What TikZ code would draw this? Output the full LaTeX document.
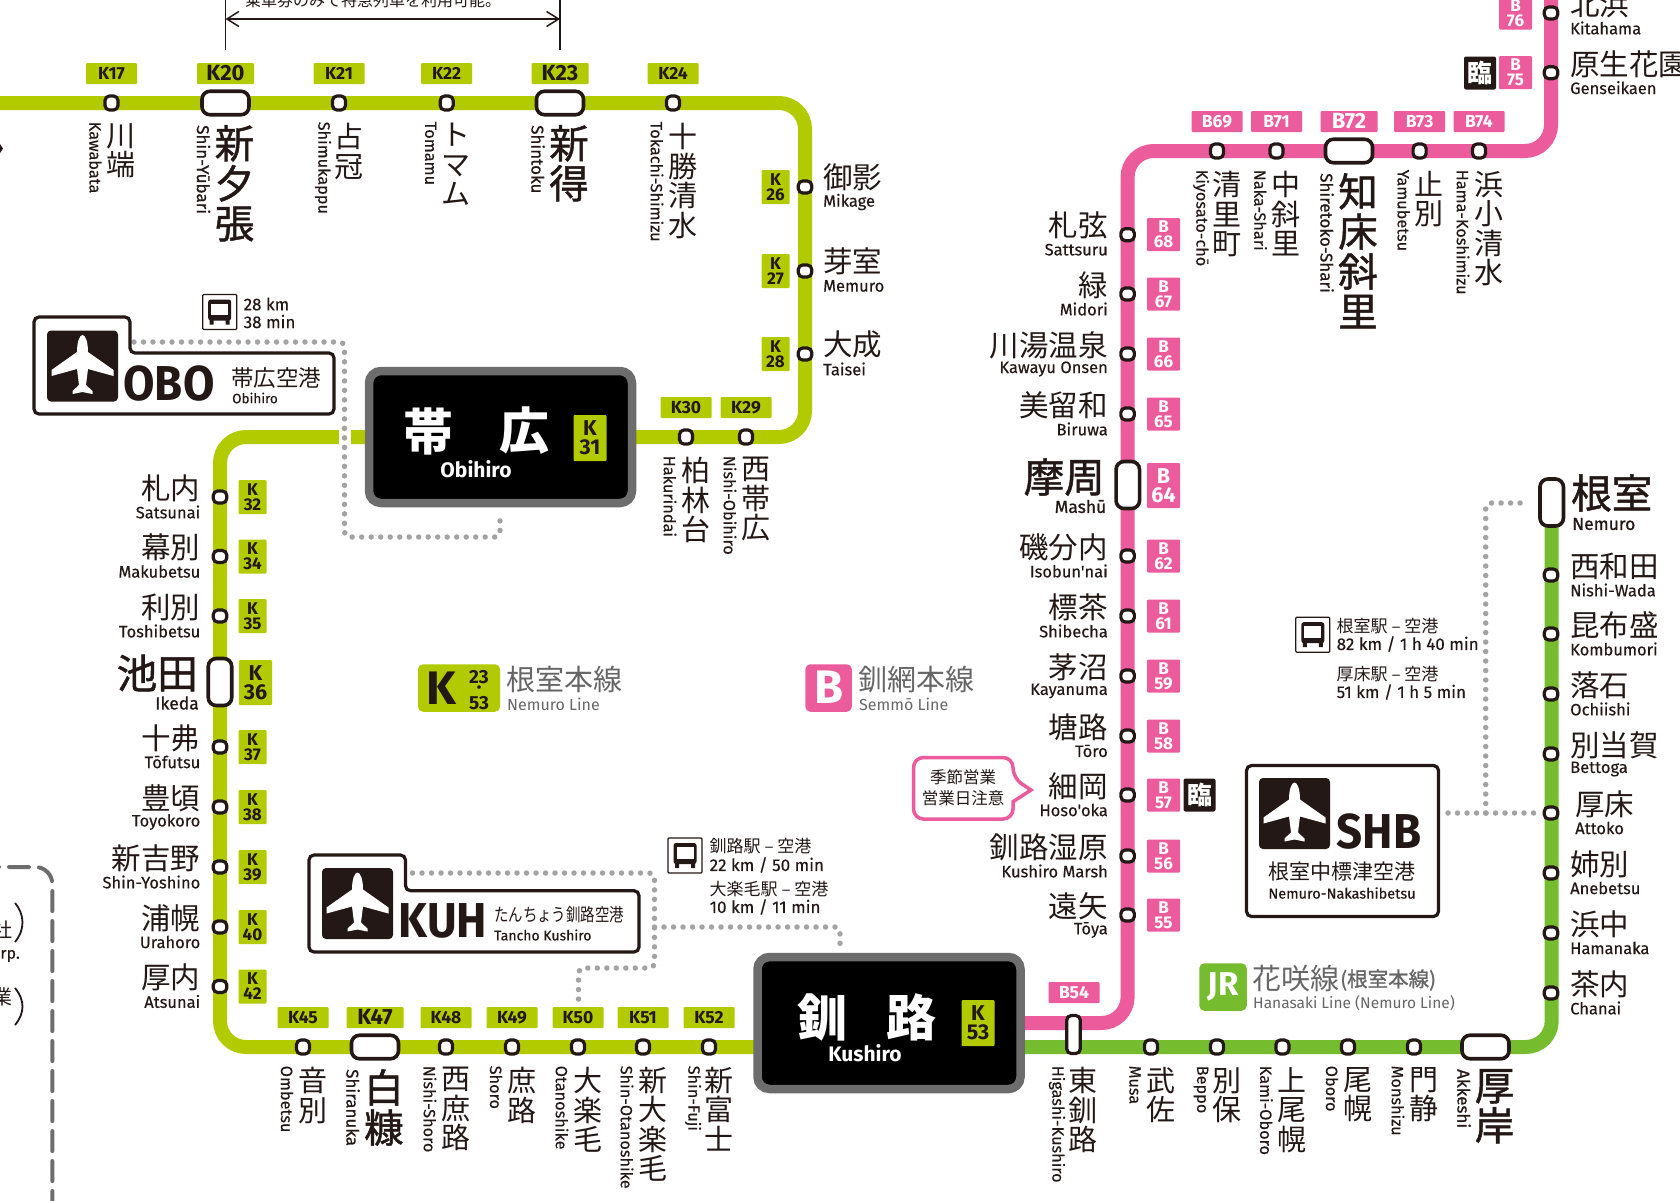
\documentclass[tikz,border=0pt]{standalone}
\usepackage{fontspec}
\usetikzlibrary{arrows.meta,backgrounds}
\newfontfamily\jafont{Noto Sans CJK JP}
\newfontfamily\jamed{Noto Sans CJK JP}[FakeBold=1.2]
\newfontfamily\jacond{Noto Sans CJK JP}[FakeStretch=0.8]
\newfontfamily\enfont{Fira Sans}[FakeBold=0.3]
\newfontfamily\enmed{Fira Sans}[FakeBold=0.9]
\newfontfamily\tagfont{Fira Sans}
\newfontfamily\codefont{Fira Sans}[FakeStretch=0.93]
\definecolor{inkcol}{HTML}{231815}
\definecolor{kcol}{HTML}{B1CB00}
\definecolor{bcol}{HTML}{EC5B9B}
\definecolor{jrcol}{HTML}{76BC2F}
\definecolor{boxcol}{HTML}{6D6D6D}
\definecolor{dotcol}{HTML}{A3A3A3}
\definecolor{legcol}{HTML}{666666}
\tikzset{
  every node/.style={inner sep=0pt,text=inkcol},
  kline/.style={draw=kcol,line width=14pt,rounded corners=26pt},
  bline/.style={kline,draw=bcol},
  jrline/.style={kline,draw=jrcol},
  dotline/.style={draw=dotcol,line width=5.5pt,line cap=round,dash pattern=on 0pt off 9.5pt,rounded corners=5pt},
  stn/.style={draw=inkcol,fill=white,line width=3.2pt,rounded corners=4.5pt,minimum width=13pt,minimum height=14pt},
  stnv/.style={stn,minimum width=13.5pt,minimum height=12pt},
  stnwide/.style={stn,line width=3.6pt,rounded corners=8pt,minimum width=47pt,minimum height=23.5pt},
  stntall/.style={stn,line width=3.6pt,rounded corners=8pt,minimum width=23.5pt,minimum height=47pt},
  ktag/.style={fill=kcol,rounded corners=1pt,minimum width=51pt,minimum height=21pt,font=\tagfont\bfseries\fontsize{17.5}{17.5}\selectfont},
  ktagbig/.style={ktag,minimum width=57pt,font=\tagfont\bfseries\fontsize{22}{22}\selectfont},
  btag/.style={ktag,fill=bcol,text=white},
  btagbig/.style={ktagbig,fill=bcol,text=white},
  ktagv/.style={fill=kcol,rounded corners=1pt,minimum width=28pt,minimum height=34pt,align=center,font=\tagfont\bfseries\fontsize{17}{15}\selectfont},
  ktagvbig/.style={ktagv,minimum width=33pt,minimum height=45pt,font=\tagfont\bfseries\fontsize{21.5}{19}\selectfont},
  btagv/.style={ktagv,fill=bcol,text=white,minimum width=33pt,minimum height=33pt},
  btagvbig/.style={ktagvbig,fill=bcol,text=white},
  rinji/.style={fill=inkcol,text=white,rounded corners=2pt,minimum width=32pt,minimum height=33pt,font=\jafont\bfseries\fontsize{25}{25}\selectfont},
  jadown/.style={anchor=north,align=center,font=\jafont\fontsize{29}{29.5}\selectfont},
  jadownbig/.style={anchor=north,align=center,font=\jamed\fontsize{39.5}{40}\selectfont},
  endown/.style={rotate=-90,anchor=west,font=\enfont\fontsize{16.3}{17}\selectfont},
  endownbig/.style={endown,font=\enmed\fontsize{17}{17}\selectfont},
  jaside/.style={font=\jafont\fontsize{29.5}{29.5}\selectfont},
  jasidebig/.style={font=\jamed\fontsize{40.5}{40.5}\selectfont},
  enside/.style={font=\enfont\fontsize{16.5}{17}\selectfont},
  ensidebig/.style={font=\enmed\fontsize{17.5}{17.5}\selectfont},
  hubbox/.style={draw=boxcol,fill=black,line width=8.5pt,rounded corners=12pt,minimum width=263pt,minimum height=132pt},
  hubja/.style={text=white,font=\jafont\bfseries\fontsize{50}{50}\selectfont},
  huben/.style={text=white,font=\tagfont\bfseries\fontsize{21}{21}\selectfont},
  hubtag/.style={ktagv,minimum width=33pt,minimum height=46pt,font=\tagfont\bfseries\fontsize{21.5}{19}\selectfont},
  portbox/.style={draw=inkcol,fill=white,line width=3.2pt,rounded corners=5pt},
  portcode/.style={font=\codefont\bfseries\fontsize{49}{49}\selectfont},
  busfont/.style={font=\enfont\fontsize{17}{17}\selectfont},
  busja/.style={font=\jafont\fontsize{17}{17}\selectfont},
  planeicon/.pic={
    \fill[inkcol,rounded corners=4pt] (-35.5,-35.5) rectangle (35.5,35.5);
    \fill[white] (0,-31) .. controls (3,-31) and (5.5,-24) .. (5.5,-14) -- (31,4) -- (31,10) -- (5.5,3) -- (3.5,19)
      -- (10,25) -- (10,28) -- (0,26) -- (-10,28) -- (-10,25) -- (-3.5,19) -- (-5.5,3) -- (-31,10) -- (-31,4)
      -- (-5.5,-14) .. controls (-5.5,-24) and (-3,-31) .. (0,-31) -- cycle;
  },
  busicon/.pic={
    \draw[inkcol,line width=1.2pt,fill=white,rounded corners=1pt] (-17,-17.5) rectangle (17,17.5);
    \fill[inkcol,rounded corners=2.5pt] (-11.5,-12.5) rectangle (11.5,8.5);
    \fill[white] (-8.5,-8.5) rectangle (8.5,3);
    \fill[inkcol] (-10,8) rectangle (-6,12.5) (6,8) rectangle (10,12.5);
  },
}
\begin{document}
\begin{tikzpicture}[x=1pt,y=-1pt]
  \useasboundingbox (0,0) rectangle (1680,1200);

  % hub stations
  \node[hubbox] (obihiro) at (500.5,437) {};
  \node[hubja] (obihiro-ja1) at (428.5,431) {帯};
  \node[hubja] (obihiro-ja2) at (524,431) {広};
  \node[huben] (obihiro-en) at (476,469) {Obihiro};
  \node[hubtag] (K31) at (590,438) {K\\31};
  \node[hubbox] (kushiro) at (889,1023) {};
  \node[hubja] (kushiro-ja1) at (822,1017) {釧};
  \node[hubja] (kushiro-ja2) at (911,1017) {路};
  \node[huben] (kushiro-en) at (865,1053) {Kushiro};
  \node[hubtag] (K53) at (978,1023) {K\\53};

  % stations on the horizontal runs
  \foreach \xx/\yy/\kind/\code/\ja/\en in {
    111.5/103/ktag/K17/川\\端/Kawabata, 339/103/ktag/K21/占\\冠/Shimukappu,
    446.7/103/ktag/K22/ト\\マ\\ム/Tomamu, 673/103/ktag/K24/十\\勝\\清\\水/Tokachi-Shimizu,
    686/437/ktag/K30/柏\\林\\台/Hakurindai, 746/437/ktag/K29/西\\帯\\広/Nishi-Obihiro,
    303/1047/ktag/K45/音\\別/Ombetsu, 446/1047/ktag/K48/西\\庶\\路/Nishi-Shoro,
    512/1047/ktag/K49/庶\\路/Shoro, 578/1047/ktag/K50/大\\楽\\毛/Otanoshike,
    643/1047/ktag/K51/新\\大\\楽\\毛/Shin-Otanoshike, 709/1047/ktag/K52/新\\富\\士/Shin-Fuji,
    1217/151/btag/B69/清\\里\\町/Kiyosato-chō, 1276.5/151/btag/B71/中\\斜\\里/Naka-Shari,
    1419.6/151/btag/B73/止\\別/Yamubetsu, 1479/151/btag/B74/浜\\小\\清\\水/Hama-Koshimizu}{
    \node[stn] (\code) at (\xx,\yy) {};
    \node[\kind] (\code-tag) at (\xx,\yy-29.5) {\code};
    \node[jadown] (\code-ja) at (\xx+9.5,\yy+20) {\ja};
    \node[endown] (\code-en) at (\xx-16,\yy+18.5) {\en};
  }
  \foreach \xx/\yy/\kind/\code/\ja/\en in {
    225.5/103/ktagbig/K20/新\\夕\\張/Shin-Yūbari, 560/103/ktagbig/K23/新\\得/Shintoku,
    375/1047/ktagbig/K47/白\\糠/Shiranuka, 1349/151/btagbig/B72/知\\床\\斜\\里/Shiretoko-Shari}{
    \node[stnwide] (\code) at (\xx,\yy) {};
    \node[\kind] (\code-tag) at (\xx,\yy-29.5) {\code};
    \node[jadownbig] (\code-ja) at (\xx+9,\yy+22) {\ja};
    \node[endownbig] (\code-en) at (\xx-22,\yy+22) {\en};
  }

  % right of the K line
  \foreach \yy/\num/\ja/\en in {187/26/御影/Mikage, 271/27/芽室/Memuro, 354/28/大成/Taisei}{
    \node[stnv] (K\num) at (805,\yy) {};
    \node[ktagv] (K\num-tag) at (775.5,\yy) {K\\\num};
    \node[jaside,anchor=west] (K\num-ja) at (823,\yy-9.5) {\ja};
    \node[enside,anchor=west] (K\num-en) at (823,\yy+15) {\en};
  }
  % left of the K line
  \foreach \yy/\num/\ja/\en in {497/32/札内/Satsunai, 556.5/34/幕別/Makubetsu, 616/35/利別/Toshibetsu,
    747/37/十弗/Tōfutsu, 807/38/豊頃/Toyokoro, 867/39/新吉野/Shin-Yoshino,
    927/40/浦幌/Urahoro, 986.5/42/厚内/Atsunai}{
    \node[stnv] (K\num) at (220,\yy) {};
    \node[ktagv] (K\num-tag) at (252.5,\yy) {K\\\num};
    \node[jaside,anchor=east] (K\num-ja) at (200.5,\yy-9) {\ja};
    \node[enside,anchor=east] (K\num-en) at (200.5,\yy+15) {\en};
  }
  \node[stntall] (K36) at (220,682) {};
  \node[ktagvbig] (K36-tag) at (255.5,682.5) {K\\36};
  \node[jasidebig,anchor=east] (K36-ja) at (198,673) {池田};
  \node[ensidebig,anchor=east] (K36-en) at (199,703) {Ikeda};

  % left of the B line
  \foreach \yy/\num/\ja/\en in {234.7/68/札弦/Sattsuru, 294/67/緑/Midori, 354/66/川湯温泉/Kawayu Onsen,
    414/65/美留和/Biruwa, 556/62/磯分内/Isobun'nai, 616/61/標茶/Shibecha, 676/59/茅沼/Kayanuma,
    736/58/塘路/Tōro, 795/57/細岡/Hoso'oka, 856/56/釧路湿原/Kushiro Marsh, 915/55/遠矢/Tōya}{
    \node[stnv] (B\num) at (1127.6,\yy) {};
    \node[btagv] (B\num-tag) at (1163.5,\yy) {B\\\num};
    \node[jaside,anchor=east] (B\num-ja) at (1108,\yy-9) {\ja};
    \node[enside,anchor=east] (B\num-en) at (1108,\yy+15) {\en};
  }
  \node[stntall] (B64) at (1127.8,485) {};
  \node[btagvbig] (B64-tag) at (1163.5,485.5) {B\\64};
  \node[jasidebig,anchor=east] (B64-ja) at (1105,477) {摩周};
  \node[ensidebig,anchor=east] (B64-en) at (1106.5,506.5) {Mashū};
  \node[rinji] (B57-rinji) at (1199.5,795) {臨};

  % top right of the B line
  \foreach \yy/\num/\ja/\en in {13/76/北浜/Kitahama, 72.7/75/原生花園/Genseikaen}{
    \node[stnv] (B\num) at (1551,\yy) {};
    \node[btagv] (B\num-tag) at (1515.5,\yy) {B\\\num};
    \node[jaside,anchor=west] (B\num-ja) at (1570,\yy-8.5) {\ja};
    \node[enside,anchor=west] (B\num-en) at (1570,\yy+15) {\en};
  }
  \node[rinji] (B75-rinji) at (1480,73) {臨};
  \node[btag] (B54-tag) at (1074,992.5) {B54};
  \node[stn,minimum width=13.5pt,minimum height=38pt] (B54) at (1073.5,1034.5) {};

  % Hanasaki line
  \foreach \xx/\id/\ja/\en in {1151/musa/武\\佐/Musa, 1217/beppo/別\\保/Beppo, 1282.4/kamioboro/上\\尾\\幌/Kami-Oboro,
    1348/oboro/尾\\幌/Oboro, 1414/monshizu/門\\静/Monshizu}{
    \node[stn] (\id) at (\xx,1047) {};
    \node[jadown] (\id-ja) at (\xx+9.5,1067) {\ja};
    \node[endown] (\id-en) at (\xx-16,1065.5) {\en};
  }
  \node[jadown] (higashi-ja) at (1082.6,1067) {東\\釧\\路};
  \node[endown] (higashi-en) at (1057,1065.5) {Higashi-Kushiro};
  \node[stnwide] (akkeshi) at (1485.5,1047) {};
  \node[jadownbig] (akkeshi-ja) at (1494.5,1069) {厚\\岸};
  \node[endownbig] (akkeshi-en) at (1464,1069) {Akkeshi};
  \foreach \yy/\id/\ja/\en in {575/nishiwada/西和田/Nishi-Wada, 634/kombumori/昆布盛/Kombumori, 694/ochiishi/落石/Ochiishi,
    754/bettoga/別当賀/Bettoga, 873/anebetsu/姉別/Anebetsu, 933/hamanaka/浜中/Hamanaka, 993/chanai/茶内/Chanai}{
    \node[stnv] (\id) at (1551,\yy) {};
    \node[jaside,anchor=west] (\id-ja) at (1570,\yy-8.5) {\ja};
    \node[enside,anchor=west] (\id-en) at (1570,\yy+15) {\en};
  }
  \node[stnv] (attoko) at (1551,813) {};
  \node[jaside,anchor=west] (attoko-ja) at (1575,804.5) {厚床};
  \node[enside,anchor=west] (attoko-en) at (1575,828) {Attoko};
  \node[stntall] (nemuro) at (1551.7,502.5) {};
  \node[jasidebig,anchor=west] (nemuro-ja) at (1571,493) {根室};
  \node[ensidebig,anchor=west] (nemuro-en) at (1572,524) {Nemuro};

  % line ends at the picture edge
  \coordinate (kstart) at (-10,103);
  \coordinate (bend) at (1551,-10);

  \begin{scope}[on background layer]
    \draw[kline] (kstart) -- (K24.center) -| (K28.center) |- (obihiro.center);
    \draw[kline] (obihiro.center) -| (K42.center) |- (K45.center) -- (K52.center -| kushiro.center);
    \draw[bline] (kushiro.center) -| (B55.center) |- (B69.center) -| (B75.center) -- (bend);
    \draw[jrline] (K52.center -| kushiro.center) -- (musa.center) -| (nemuro.center);
  \end{scope}

  % dotted links to the airports
  \coordinate (obolink1) at (134,342);
  \coordinate (obolink2) at (344.5,342);
  \coordinate (obolink3) at (344.5,537);
  \coordinate (obolink4) at (500,537);
  \coordinate (obolink5) at (500,515);
  \draw[white,line width=12pt] (344.5,430) -- (344.5,445);
  \draw[dotline] (obolink1) -- (obolink2) -- (obolink3) -- (obolink4) -- (obolink5);
  \coordinate (kuhlink1) at (412.5,873);
  \coordinate (kuhlink2) at (654.5,873);
  \coordinate (kuhlink3) at (654.5,968);
  \coordinate (kuhlink4) at (578.5,968);
  \coordinate (kuhlink5) at (578.5,1003);
  \coordinate (kuhlink6) at (654.5,927);
  \coordinate (kuhlink7) at (840,927);
  \coordinate (kuhlink8) at (840,948);
  \draw[dotline] (kuhlink1) -- (kuhlink2) -- (kuhlink3) -- (kuhlink4) -- (kuhlink5);
  \draw[dotline] (kuhlink6) -- (kuhlink7) -- (kuhlink8);
  \coordinate (shblink1) at (1448,813);
  \coordinate (shblink2) at (1537,813);
  \coordinate (shblink3) at (1485.7,813);
  \coordinate (shblink4) at (1485.7,503);
  \coordinate (shblink5) at (1528,503);
  \draw[dotline] (shblink1) -- (shblink2);
  \draw[dotline] (shblink3) -- (shblink4) -- (shblink5);

  % Obihiro airport
  \draw[portbox] (34,317) -- (130,317) -- (130,353) -- (334,353) -- (334,414) -- (34,414) -- cycle;
  \pic at (82.5,366) {planeicon};
  \node[portcode] (obo-code) at (169,384) {OBO};
  \node[font=\jafont\fontsize{22.5}{22.5}\selectfont] (obo-ja) at (276,378) {帯広空港};
  \node[anchor=west,font=\enfont\fontsize{13.5}{14}\selectfont] (obo-en) at (232,398) {Obihiro};
  \pic at (219.7,312) {busicon};
  \node[busfont,anchor=west] (obo-km) at (243.5,304) {28 km};
  \node[busfont,anchor=west] (obo-min) at (243.5,321.5) {38 min};

  % Kushiro airport
  \draw[portbox] (309,855) -- (405.5,855) -- (405.5,890.7) -- (639,890.7) -- (639,952) -- (309,952) -- cycle;
  \pic at (357.5,903.5) {planeicon};
  \node[portcode] (kuh-code) at (443,921) {KUH};
  \node[anchor=west,font=\jacond\fontsize{18}{18}\selectfont] (kuh-ja) at (494,915) {たんちょう釧路空港};
  \node[anchor=west,font=\enfont\fontsize{14}{14}\selectfont] (kuh-en) at (494,935) {Tancho Kushiro};
  \pic at (685,855.5) {busicon};
  \node[busja,anchor=west] (kuh-bus1) at (709.5,846.5) {釧路駅 – 空港};
  \node[busfont,anchor=west] (kuh-bus2) at (709.5,865) {22 km / 50 min};
  \node[busja,anchor=west] (kuh-bus3) at (709.5,889) {大楽毛駅 – 空港};
  \node[busfont,anchor=west] (kuh-bus4) at (709.5,907) {10 km / 11 min};

  % Nemuro-Nakashibetsu airport
  \node[portbox,minimum width=192pt,minimum height=151pt] (shb) at (1342.5,841) {};
  \pic at (1294.5,813.5) {planeicon};
  \node[portcode] (shb-code) at (1379,832) {SHB};
  \node[font=\jafont\fontsize{21}{21}\selectfont] (shb-ja) at (1342,871.5) {根室中標津空港};
  \node[font=\enfont\fontsize{14.5}{15}\selectfont] (shb-en) at (1342,893) {Nemuro-Nakashibetsu};
  \pic at (1312.8,634.7) {busicon};
  \node[busja,anchor=west] (shb-bus1) at (1336.5,626) {根室駅 – 空港};
  \node[busfont,anchor=west] (shb-bus2) at (1336.5,644) {82 km / 1 h 40 min};
  \node[busja,anchor=west] (shb-bus3) at (1336.5,674) {厚床駅 – 空港};
  \node[busfont,anchor=west] (shb-bus4) at (1336.5,692) {51 km / 1 h 5 min};

  % seasonal note
  \draw[draw=bcol,fill=white,line width=3.5pt,rounded corners=10pt] (913.5,757.5) -- (1013,757.5) -- (1013,778)
    [sharp corners] -- (1031,790) -- (1013,801.7) [rounded corners=10pt] -- (1013,819) -- (913.5,819) -- cycle;
  \node[font=\jafont\fontsize{16.5}{16.5}\selectfont] (season1) at (963,776.7) {季節営業};
  \node[font=\jafont\fontsize{16.5}{16.5}\selectfont] (season2) at (963,798) {営業日注意};

  % line legends
  \node[fill=kcol,rounded corners=5pt,minimum width=82pt,minimum height=47.5pt] (legk) at (459,688) {};
  \node[font=\tagfont\bfseries\fontsize{47}{47}\selectfont] (legk-k) at (441.5,688) {K};
  \node[font=\tagfont\bfseries\fontsize{19}{19}\selectfont] (legk-23) at (479,676.7) {23};
  \node[font=\jafont\bfseries\fontsize{13}{13}\selectfont] (legk-dot) at (479,689) {・};
  \node[font=\tagfont\bfseries\fontsize{19}{19}\selectfont] (legk-53) at (479,702.7) {53};
  \node[anchor=west,text=legcol,font=\jafont\fontsize{29}{29}\selectfont] (legk-ja) at (506.5,679) {根室本線};
  \node[anchor=west,text=legcol,font=\tagfont\fontsize{16}{16}\selectfont] (legk-en) at (507,704) {Nemuro Line};
  \node[fill=bcol,rounded corners=5pt,minimum width=46.5pt,minimum height=47.5pt] (legb) at (828.6,688) {};
  \node[text=white,font=\tagfont\bfseries\fontsize{47}{47}\selectfont] (legb-b) at (828.6,687) {B};
  \node[anchor=west,text=legcol,font=\jafont\fontsize{29}{29}\selectfont] (legb-ja) at (858.5,679) {釧網本線};
  \node[anchor=west,text=legcol,font=\tagfont\fontsize{16}{16}\selectfont] (legb-en) at (859,704) {Semmō Line};
  \node[fill=jrcol,rounded corners=5pt,minimum width=47.5pt,minimum height=47.5pt] (legjr) at (1223,987) {};
  \node[text=white,font=\tagfont\bfseries\fontsize{33}{33}\selectfont] (legjr-t) at (1223,987) {JR};
  \node[anchor=west,text=legcol,font=\jafont\fontsize{29}{29}\selectfont] (legjr-ja) at (1252,978) {花咲線};
  \node[anchor=west,text=legcol,font=\jamed\fontsize{20.5}{20.5}\selectfont] (legjr-sub) at (1340,980) {(根室本線)};
  \node[anchor=west,text=legcol,font=\tagfont\fontsize{15.5}{16}\selectfont] (legjr-en) at (1253,1003) {Hanasaki Line (Nemuro Line)};

  % express note at the top
  \coordinate (ticka0) at (225.5,-5);
  \coordinate (ticka1) at (225.5,50);
  \coordinate (tickb0) at (560,-5);
  \coordinate (tickb1) at (560,50);
  \coordinate (spana) at (225.5,19);
  \coordinate (spanb) at (560,19);
  \draw[inkcol,line width=1.5pt] (ticka0) -- (ticka1);
  \draw[inkcol,line width=1.5pt] (tickb0) -- (tickb1);
  \draw[inkcol,line width=1.5pt,{Straight Barb[length=12pt,width=15pt]}-{Straight Barb[length=12pt,width=15pt]}] (spana) -- (spanb);
  \node[font=\jafont\fontsize{16}{16}\selectfont] (expressnote) at (373,0.5) {乗車券のみで特急列車を利用可能。};

  % cut-off pieces at the left edge
  \fill[inkcol] (0,144) -- (3,148.5) -- (0,153) -- cycle;
  \coordinate (cutline1) at (-21,867);
  \coordinate (cutline2) at (52.3,867);
  \coordinate (cutline3) at (52.3,1210);
  \draw[draw=boxcol,line width=4pt,line cap=round,dash pattern=on 20pt off 10pt,rounded corners=17pt] (cutline1) -- (cutline2) -- (cutline3);
  \node[anchor=east,font=\jafont\fontsize{20}{20}\selectfont] (cutsha) at (12.5,930) {社};
  \node[anchor=east,font=\enfont\fontsize{16}{16}\selectfont] (cutrp) at (20,956) {rp.};
  \node[anchor=east,font=\jafont\fontsize{20}{20}\selectfont] (cutgyo) at (12.5,997) {業};
  \draw[inkcol,line width=1.8pt] (15,903) .. controls (25,915) and (25,930) .. (15,942);
  \draw[inkcol,line width=1.8pt] (15,988) .. controls (25,1000) and (25,1013) .. (15,1025);
\end{tikzpicture}
\end{document}
